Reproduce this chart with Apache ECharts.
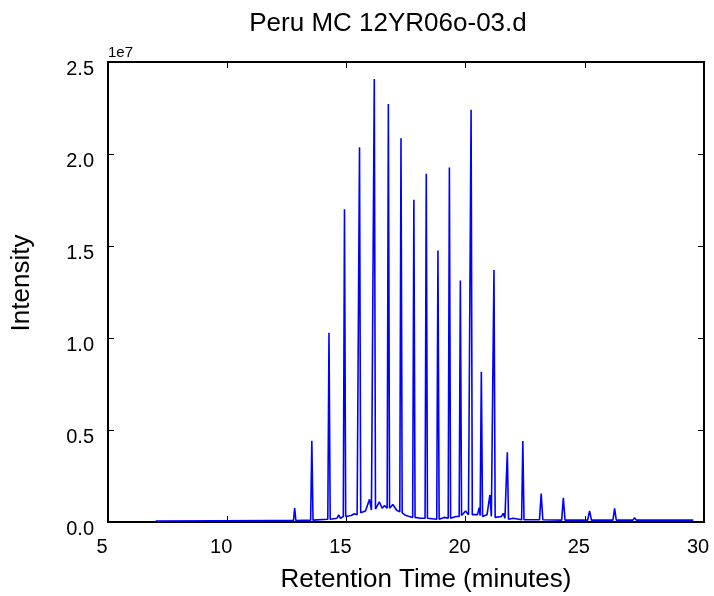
<!DOCTYPE html>
<html>
<head>
<meta charset="utf-8">
<script src="https://cdn.jsdelivr.net/npm/echarts@6/dist/echarts.min.js"></script>
<style>
  html, body { margin: 0; padding: 0; background: #fff; }
  #main { width: 714px; height: 596px; }
</style>
</head>
<body>
<div id="main"></div>
<script>
// retention time (minutes) of each point on the trace
const times = [
  7.0, 12.0, 12.78, 12.83, 12.88, 13.5, 13.55, 13.6, 14.22, 14.27, 14.32,
  14.6, 14.68, 14.75, 14.87, 14.92, 14.97, 15.2, 15.34, 15.45, 15.5, 15.55, 15.6,
  15.8, 15.97, 16.05, 16.12, 16.17, 16.22, 16.38, 16.5, 16.6, 16.71, 16.76, 16.81,
  16.95, 17.1, 17.24, 17.29, 17.34, 17.5, 17.78, 17.83, 17.88, 18.1, 18.3, 18.35, 18.4,
  18.79, 18.84, 18.89, 19.1, 19.27, 19.32, 19.37, 19.6, 19.73, 19.78, 19.83,
  20.0, 20.06, 20.12, 20.18, 20.23, 20.28, 20.5, 20.57, 20.61, 20.66, 20.71,
  20.9, 21.02, 21.08, 21.14, 21.19, 21.24, 21.5, 21.58, 21.65, 21.7, 21.75, 21.8,
  22.0, 22.35, 22.4, 22.45, 23.1, 23.17, 23.24, 24.03, 24.1, 24.17,
  25.12, 25.2, 25.28, 26.18, 26.25, 26.32, 27.02, 27.09, 27.16, 27.98, 28.05, 28.12, 29.55
];
// intensity in millions of counts, same order as times
const intensityM = [
  0.05, 0.08, 0.08, 0.76, 0.08, 0.1, 4.42, 0.1, 0.15, 10.29, 0.15,
  0.2, 0.38, 0.2, 0.3, 17.0, 0.3, 0.35, 0.45, 0.4, 0.45, 20.36, 0.5,
  0.6, 1.23, 0.65, 0.7, 24.08, 0.7, 1.1, 0.75, 0.9, 0.75, 22.72, 0.75,
  0.95, 0.65, 0.55, 20.85, 0.5, 0.35, 0.25, 17.52, 0.25, 0.2, 0.2, 18.93, 0.2,
  0.15, 14.75, 0.15, 0.25, 0.2, 19.27, 0.2, 0.3, 0.3, 13.13, 0.35,
  0.6, 0.7, 0.4, 0.4, 22.41, 0.4, 0.4, 0.78, 0.35, 8.17, 0.3,
  0.4, 1.47, 0.3, 0.3, 13.7, 0.25, 0.3, 0.47, 0.2, 0.2, 3.79, 0.15,
  0.2, 0.12, 4.4, 0.12, 0.12, 1.54, 0.12, 0.1, 1.32, 0.1,
  0.1, 0.6, 0.1, 0.1, 0.74, 0.1, 0.1, 0.23, 0.1, 0.1, 0.2, 0.1, 0.1
];
const xTicks = [5, 10, 15, 20, 25, 30];
const yTicks = [0, 0.5e7, 1.0e7, 1.5e7, 2.0e7, 2.5e7];

const font = 'Liberation Sans, Arial, sans-serif';
const chart = echarts.init(document.getElementById('main'), null, { renderer: 'canvas' });

const trace = times.map((t, i) => [t, intensityM[i] * 1e6]);

const frameLine = { show: true, onZero: false, lineStyle: { color: '#000', width: 2 } };
const innerTick = { show: true, inside: true, length: 6, lineStyle: { color: '#000', width: 1 } };

const options = {
  animation: false,
  backgroundColor: '#fff',
  grid: { left: 108, right: 10, top: 62, bottom: 74, containLabel: false, outerBoundsMode: 'none' },
  graphic: [{
    // title
    type: 'text',
    x: 388,
    y: 24,
    style: {
      text: 'Peru MC 12YR06o-03.d', font: '26px ' + font, fill: '#000',
      textAlign: 'center', textVerticalAlign: 'middle'
    }
  }, {
    type: 'text',
    left: 108,
    top: 45,
    style: { text: '1e7', font: '15px ' + font, fill: '#000' }
  }, {
    type: 'text',
    x: 22,
    y: 283,
    rotation: Math.PI / 2,
    style: {
      text: 'Intensity', font: '26px ' + font, fill: '#000',
      textAlign: 'center', textVerticalAlign: 'middle'
    }
  }],
  xAxis: [{
    type: 'value',
    min: xTicks[0],
    max: xTicks[xTicks.length - 1],
    interval: 5,
    position: 'bottom',
    name: 'Retention Time (minutes)',
    nameLocation: 'middle',
    nameGap: 45,
    nameTextStyle: { fontFamily: font, fontSize: 26, color: '#000', padding: [0, 0, 0, 40] },
    axisLine: frameLine,
    axisTick: innerTick,
    splitLine: { show: false },
    axisLabel: {
      margin: 15, fontFamily: font, fontSize: 20, color: '#000',
      padding: [0, 12, 0, 0], showMinLabel: true, showMaxLabel: true
    }
  }, {
    type: 'value',
    min: xTicks[0],
    max: xTicks[xTicks.length - 1],
    interval: 5,
    position: 'top',
    axisLine: frameLine,
    axisTick: innerTick,
    splitLine: { show: false },
    axisLabel: { show: false }
  }],
  yAxis: [{
    type: 'value',
    min: yTicks[0],
    max: yTicks[yTicks.length - 1],
    interval: 0.5e7,
    position: 'left',
    axisLine: frameLine,
    axisTick: innerTick,
    splitLine: { show: false },
    axisLabel: {
      margin: 14, fontFamily: font, fontSize: 20, color: '#000',
      verticalAlign: 'top', lineHeight: 14,
      formatter: v => (v / 1e7).toFixed(1)
    }
  }, {
    type: 'value',
    min: yTicks[0],
    max: yTicks[yTicks.length - 1],
    interval: 0.5e7,
    position: 'right',
    axisLine: frameLine,
    axisTick: innerTick,
    splitLine: { show: false },
    axisLabel: { show: false }
  }],
  series: [{
    type: 'line',
    xAxisIndex: 0,
    yAxisIndex: 0,
    data: trace,
    symbol: 'none',
    lineStyle: { color: '#0000ff', width: 1.6 },
    z: 1
  }]
};

chart.setOption(options);
</script>
</body>
</html>
